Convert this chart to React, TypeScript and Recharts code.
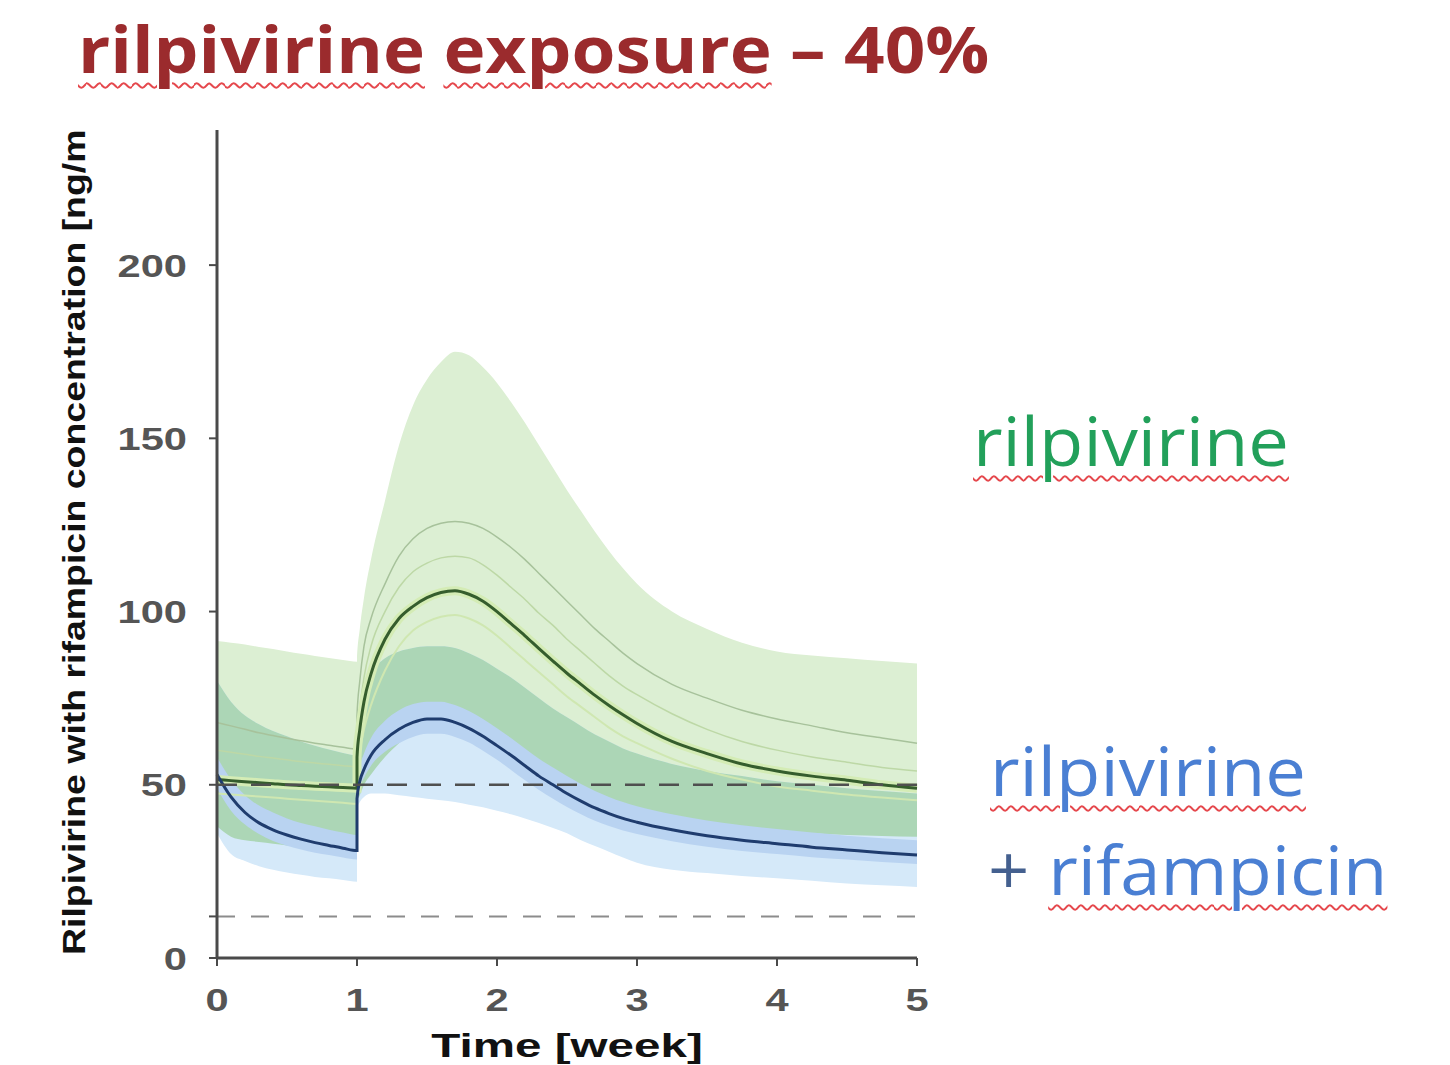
import React from 'react';
import { ComposedChart, Area, Line, XAxis, YAxis, ReferenceLine, Label } from 'recharts';

// time in weeks; week 1 appears twice (trough before the dose, then the jump after it)
const weeks = [
  0, 0.1, 0.2, 0.3, 0.4, 0.5, 0.6, 0.7, 0.8, 0.9, 1,
  1, 1.02, 1.05, 1.1, 1.2, 1.3, 1.4, 1.5, 1.6, 1.7, 1.8, 1.9, 2,
  2.1, 2.2, 2.3, 2.4, 2.5, 2.6, 2.7, 2.8, 2.9, 3,
  3.25, 3.5, 3.75, 4, 4.25, 4.5, 4.75, 5,
];

// rilpivirine alone (green)
const greenHigh = [
  91.5, 91, 90.5, 89.8, 89.2, 88.5, 87.8, 87.2, 86.6, 86, 85.5,
  86, 95, 104, 115, 132, 148, 159.5, 167, 172, 175, 174, 170.5, 166,
  160.5, 154.5, 148, 141.5, 135, 129, 123, 117.5, 112.5, 108,
  100, 95, 91, 88.5, 87.3, 86.5, 85.7, 85,
];
const greenLow = [
  38, 35, 34, 33.5, 33, 32.5, 32, 31.5, 31, 30.5, 30,
  45, 47, 50, 53, 58, 62, 65.5, 68, 69.5, 70, 69, 67, 64.5,
  61.5, 58.5, 55.5, 52.5, 50, 47.5, 45.5, 44, 42.5, 41.5,
  39.5, 38, 37, 36.5, 36, 35.5, 35.2, 35,
];
const greenMedian = [
  51.5, 51.2, 50.9, 50.6, 50.3, 50, 49.8, 49.6, 49.4, 49.2, 49,
  58, 66, 74, 82, 92, 98, 101.5, 104, 105.5, 106, 105, 103, 100,
  96.5, 93, 89.3, 85.7, 82.2, 79, 75.8, 72.9, 70.2, 67.7,
  62.5, 59, 56, 54, 52.5, 51.3, 50, 49,
];
const greenThin1 = [
  68, 67, 66, 65, 64.2, 63.4, 62.7, 62, 61.4, 60.8, 60.3,
  70, 80, 90, 98, 108, 116, 121, 124, 125.5, 126, 125.5, 124, 121.5,
  118.5, 115, 111, 107, 103, 99, 95, 91.5, 88, 85,
  79, 75, 71.5, 69, 67, 65, 63.5, 62,
];
const greenThin2 = [
  60, 59.4, 58.8, 58.2, 57.7, 57.2, 56.7, 56.3, 55.9, 55.5, 55.2,
  64, 72, 81, 90, 100, 107, 111.5, 114, 115.5, 116, 115.5, 113.5, 110.5,
  107, 103.5, 99.5, 96, 92, 88.5, 85, 81.5, 78.5, 76,
  70.5, 66, 62.5, 60, 58, 56.5, 55, 54,
];
const greenThin3 = [
  47.5, 47.2, 46.9, 46.6, 46.3, 46, 45.7, 45.4, 45.1, 44.8, 44.5,
  54, 60, 66, 73, 83, 90, 94.5, 97, 98.5, 99, 98, 96, 93,
  89.5, 86, 82.5, 79, 75.5, 72.5, 69.5, 66.5, 64, 62,
  57.5, 54, 51.5, 49.5, 48.3, 47.2, 46.3, 45.5,
];

// rilpivirine + rifampicin (blue)
const blueHigh = [
  80, 74, 70, 67.5, 65.5, 64, 62.5, 61.3, 60.2, 59.2, 58.5,
  60, 70, 77, 82, 86.5, 88.5, 89.5, 90, 90, 89.5, 88, 86, 83.5,
  81, 78, 75, 72, 69.5, 67, 64.5, 62.5, 60.5, 59,
  56, 54, 52.5, 51, 50, 49, 48.2, 47.5,
];
const blueLow = [
  36, 30, 28, 26.5, 25.5, 24.7, 24, 23.4, 23, 22.5, 22,
  43, 45, 46.5, 47.5, 47.5, 47, 46.5, 46, 45.5, 45, 44.2, 43.5, 42.5,
  41.5, 40.3, 39, 37.5, 36, 34, 32.3, 30.7, 29, 27.5,
  25.5, 24.5, 23.7, 23, 22.3, 21.5, 21, 20.5,
];
const blueInnerHigh = [
  58, 51.5, 47, 44, 42, 40.3, 39, 38, 37, 36.2, 35.5,
  49, 55, 59, 63.5, 68.5, 71.5, 73.3, 74, 74, 73, 71.3, 69, 66.3,
  63.5, 60.5, 57.5, 55, 52.5, 50.2, 48.2, 46.5, 45, 43.8,
  41.5, 39.7, 38.3, 37.2, 36.2, 35.3, 34.6, 34,
];
const blueInnerLow = [
  49, 42.5, 38.5, 35.8, 33.8, 32.4, 31.3, 30.4, 29.7, 29, 28.4,
  44.5, 49, 52, 55.5, 59.5, 62, 63.8, 64.7, 64.7, 63.8, 62.2, 59.8, 57.2,
  54.3, 51.3, 48.5, 46, 43.6, 41.5, 39.6, 38.1, 36.8, 35.8,
  33.7, 32.1, 30.9, 30, 29.1, 28.4, 27.7, 27.1,
];
const blueMedian = [
  53, 46.5, 42, 39, 37, 35.5, 34.3, 33.3, 32.5, 31.7, 31,
  46, 51, 54.5, 58.5, 63, 66, 68, 69, 69, 68, 66.3, 64, 61.3,
  58.5, 55.5, 52.5, 50, 47.5, 45.3, 43.3, 41.7, 40.3, 39.2,
  37, 35.3, 34, 33, 32, 31.2, 30.4, 29.7,
];

const xTicks = [0, 1, 2, 3, 4, 5];
const yTicks = [0, 12, 50, 100, 150, 200];
const yLabelled = [0, 50, 100, 150, 200];
const targetLine = 50;
const lowerLine = 12;

const rows = weeks.map((week, i) => {
  const ovLo = Math.max(greenLow[i], blueLow[i]);
  const ovHi = Math.min(greenHigh[i], blueHigh[i]);
  return {
    week,
    greenBand: [greenLow[i], greenHigh[i]],
    blueBand: [blueLow[i], blueHigh[i]],
    overlap: ovHi > ovLo ? [ovLo, ovHi] : null,
    blueInner: [blueInnerLow[i], blueInnerHigh[i]],
    greenMedian: greenMedian[i],
    greenThin1: greenThin1[i],
    greenThin2: greenThin2[i],
    greenThin3: greenThin3[i],
    blueMedian: blueMedian[i],
  };
});

const tickFont = '"Liberation Sans", Arial, sans-serif';

const YTick = ({ x, y, payload }: any) => {
  if (!yLabelled.includes(payload.value)) return <g />;
  return (
    <g transform={`translate(${x},${y}) scale(1.3,1)`}>
      <text textAnchor="end" dy="0.36em" fill="#555" fontSize={32} fontWeight={700} fontFamily={tickFont}>
        {payload.value}
      </text>
    </g>
  );
};

const XTick = ({ x, y, payload }: any) => (
  <g transform={`translate(${x},${y}) scale(1.3,1)`}>
    <text textAnchor="middle" dy="0.71em" fill="#555" fontSize={32} fontWeight={700} fontFamily={tickFont}>
      {payload.value}
    </text>
  </g>
);

const wavy: React.CSSProperties = {
  textDecorationLine: 'underline',
  textDecorationStyle: 'wavy',
  textDecorationColor: '#e5484d',
  textDecorationThickness: '1.5px',
  textUnderlineOffset: '9px',
};

const textBase: React.CSSProperties = {
  position: 'absolute',
  fontFamily: '"Open Sans", sans-serif',
  whiteSpace: 'nowrap',
  transformOrigin: 'left center',
};

export default function App() {
  return (
    <div style={{ position: 'absolute', left: 0, top: 0, width: 1450, height: 1065, background: '#fff', overflow: 'hidden' }}>
      <div style={{ position: 'absolute', left: 0, top: 0 }}>
        <ComposedChart width={1000} height={1065} data={rows} margin={{ top: 130, right: 83, bottom: 7, left: 117 }}>
          <XAxis
            type="number"
            dataKey="week"
            domain={[0, 5]}
            ticks={xTicks}
            height={100}
            axisLine={{ stroke: '#4a4a4a', strokeWidth: 3 }}
            tickLine={{ stroke: '#4a4a4a', strokeWidth: 2 }}
            tickSize={8}
            tickMargin={22}
            tick={<XTick />}
          >
            <Label
              content={({ viewBox }: any) => (
                <g transform={`translate(${viewBox.x + viewBox.width / 2},${viewBox.y + 99}) scale(1.4,1)`}>
                  <text textAnchor="middle" fontSize={34} fontWeight={700} fill="#111" fontFamily={tickFont}>
                    Time [week]
                  </text>
                </g>
              )}
            />
          </XAxis>
          <YAxis
            type="number"
            domain={[0, 239]}
            ticks={yTicks}
            width={100}
            allowDataOverflow
            axisLine={{ stroke: '#4a4a4a', strokeWidth: 3 }}
            tickLine={{ stroke: '#4a4a4a', strokeWidth: 2 }}
            tickSize={8}
            tickMargin={22}
            tick={<YTick />}
          >
            <Label
              content={({ viewBox }: any) => (
                <g transform={`translate(${viewBox.x - 32},${viewBox.y + viewBox.height - 3}) rotate(-90) scale(1.17,1)`}>
                  <text textAnchor="start" fontSize={32} fontWeight={700} fill="#111" fontFamily={tickFont}>
                    Rilpivirine with rifampicin concentration [ng/m
                  </text>
                </g>
              )}
            />
          </YAxis>

          <Area type="monotone" dataKey="greenBand" stroke="none" fill="#dcefd3" fillOpacity={1} isAnimationActive={false} />
          <Area type="monotone" dataKey="blueBand" stroke="none" fill="#d5e9f9" fillOpacity={1} isAnimationActive={false} />
          <Area type="monotone" dataKey="overlap" stroke="none" fill="#acd6b6" fillOpacity={1} isAnimationActive={false} />
          <Area type="monotone" dataKey="blueInner" stroke="none" fill="#b9d3f1" fillOpacity={1} isAnimationActive={false} />

          <Line type="monotone" dataKey="greenThin1" stroke="#a7c29b" strokeWidth={1.5} dot={false} isAnimationActive={false} />
          <Line type="monotone" dataKey="greenThin2" stroke="#bdd8a6" strokeWidth={1.5} dot={false} isAnimationActive={false} />
          <Line type="monotone" dataKey="greenThin3" stroke="#cfe7b1" strokeWidth={2} dot={false} isAnimationActive={false} />
          <Line type="monotone" dataKey="greenMedian" stroke="#d4ecb5" strokeWidth={9} dot={false} isAnimationActive={false} />
          <Line type="monotone" dataKey="greenMedian" stroke="#355d2d" strokeWidth={3} dot={false} isAnimationActive={false} />
          <Line type="monotone" dataKey="blueMedian" stroke="#1f3c6e" strokeWidth={3} dot={false} isAnimationActive={false} />

          <ReferenceLine y={targetLine} stroke="#4f4f4f" strokeWidth={2.5} strokeDasharray="20 14" />
          <ReferenceLine y={lowerLine} stroke="#8c8c8c" strokeWidth={2} strokeDasharray="18 16" />
        </ComposedChart>
      </div>

      <div style={{ ...textBase, left: 78, top: 17, fontSize: 64, lineHeight: '64px', fontWeight: 700, color: '#9b2b2d', transform: 'scaleX(1.11)' }}>
        <span style={wavy}>rilpivirine</span> <span style={wavy}>exposure</span> – 40%
      </div>
      <div style={{ ...textBase, left: 973, top: 407, fontSize: 67, lineHeight: '67px', color: '#22a05a', transform: 'scaleX(1.08)' }}>
        <span style={wavy}>rilpivirine</span>
      </div>
      <div style={{ ...textBase, left: 990, top: 737, fontSize: 67, lineHeight: '67px', color: '#4a7fd3', transform: 'scaleX(1.08)' }}>
        <span style={wavy}>rilpivirine</span>
      </div>
      <div style={{ ...textBase, left: 988, top: 836, fontSize: 67, lineHeight: '67px', color: '#4a7fd3', transform: 'scaleX(1.08)' }}>
        <span style={{ color: '#44608f' }}>+</span> <span style={wavy}>rifampicin</span>
      </div>
    </div>
  );
}
